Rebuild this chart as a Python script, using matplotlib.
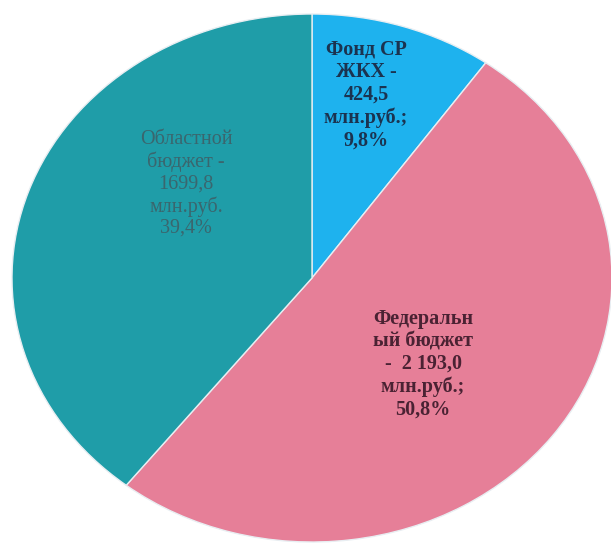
import matplotlib
matplotlib.use("Agg")
import matplotlib.pyplot as plt

categories = ["Фонд СР ЖКХ", "Федеральный бюджет", "Областной бюджет"]
values = [424.5, 2193.0, 1699.8]
shares = [9.8, 50.8, 39.4]
labels = [
    "Фонд СР\nЖКХ -\n424,5\nмлн.руб.;\n9,8%",
    "Федеральн\nый бюджет\n-  2 193,0\nмлн.руб.;\n50,8%",
    "Областной\nбюджет -\n1699,8\nмлн.руб.\n39,4%",
]
colors = ["#1EB2EE", "#E67F98", "#1F9DA8"]
text_colors = ["#1b3350", "#4a2233", "#3a666e"]
weights = ["bold", "bold", "normal"]

W, H, DPI = 611, 543, 100
fig = plt.figure(figsize=(W / DPI, H / DPI), dpi=DPI)
ax = fig.add_axes([0, 0, 1, 1])

# pie centre at pixel (312, 278), radii 300 px (x) and 264 px (y)
cx, cy, rx, ry = 312, 278, 300, 264
ax.pie(values, colors=colors, startangle=90, counterclock=False,
       wedgeprops=dict(edgecolor="#e8eef2", linewidth=1.0))
ax.set_aspect("auto")
ax.set_xlim(-cx / rx, (W - cx) / rx)
ax.set_ylim(-(H - cy) / ry, cy / ry)
ax.axis("off")

label_px = [(366, 95), (423, 364), (186, 184)]
for lab, (px, py), tc, fw in zip(labels, label_px, text_colors, weights):
    ax.text((px - cx) / rx, (cy - py) / ry, lab, ha="center", va="center",
            fontsize=14.5, family="Liberation Serif", color=tc,
            fontweight=fw, linespacing=1.17)

fig.savefig("out.png", dpi=DPI)
